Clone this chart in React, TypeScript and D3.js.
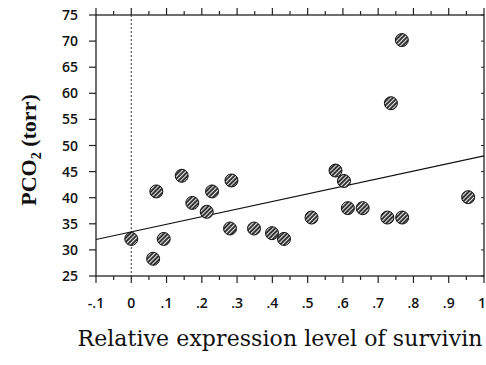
import React, { useEffect, useRef } from "react";
import * as d3 from "d3";

// survivin expression vs PCO2
const survivin = [0, 0.062, 0.071, 0.092, 0.143, 0.173, 0.214, 0.229, 0.284, 0.28, 0.348, 0.399, 0.433, 0.511, 0.579, 0.603, 0.614, 0.656, 0.726, 0.768, 0.955, 0.767, 0.736];
const pco2 = [32.1, 28.3, 41.2, 32.1, 44.2, 39.0, 37.3, 41.2, 43.3, 34.1, 34.1, 33.2, 32.1, 36.2, 45.2, 43.2, 38.0, 38.0, 36.2, 36.2, 40.1, 70.2, 58.1];

// fitted line as drawn: y = a + b x
const fitIntercept = 33.45;
const fitSlope = 14.55;

const xTicks = [-0.1, 0, 0.1, 0.2, 0.3, 0.4, 0.5, 0.6, 0.7, 0.8, 0.9, 1];
const xTickLabels = ["-.1", "0", ".1", ".2", ".3", ".4", ".5", ".6", ".7", ".8", ".9", "1"];
const yTicks = [25, 30, 35, 40, 45, 50, 55, 60, 65, 70, 75];

const W = 486;
const H = 365;
const margin = { top: 15, right: 2, bottom: 89, left: 96 };

export default function App() {
  const ref = useRef<SVGSVGElement>(null);

  useEffect(() => {
    const svg = d3.select(ref.current);
    svg.selectAll("*").remove();

    const x = d3.scaleLinear().domain([-0.1, 1]).range([margin.left, W - margin.right]);
    const y = d3.scaleLinear().domain([25, 75]).range([H - margin.bottom, margin.top]);

    // hatch pattern for the dots
    const pat = svg.append("defs").append("pattern")
      .attr("id", "hatch")
      .attr("patternUnits", "userSpaceOnUse")
      .attr("width", 3)
      .attr("height", 3)
      .attr("patternTransform", "rotate(45)");
    pat.append("rect").attr("width", 3).attr("height", 3).attr("fill", "#2a2a2a");
    pat.append("rect").attr("width", 1.1).attr("height", 3).attr("fill", "#e8e8e8");

    const axisColor = "#222";
    const minor = d3.range(-0.1, 1.0001, 0.05);

    // frame
    svg.append("rect")
      .attr("x", x(-0.1)).attr("y", y(75))
      .attr("width", x(1) - x(-0.1)).attr("height", y(25) - y(75))
      .attr("fill", "none").attr("stroke", axisColor).attr("stroke-width", 1.3);

    // top ticks (pointing up)
    svg.append("g").selectAll("line").data(minor).join("line")
      .attr("x1", d => x(d)).attr("x2", d => x(d))
      .attr("y1", y(75)).attr("y2", (d, i) => y(75) - (i % 2 === 0 ? 7 : 4))
      .attr("stroke", axisColor).attr("stroke-width", 1.2);

    // bottom ticks (pointing down)
    svg.append("g").selectAll("line").data(minor).join("line")
      .attr("x1", d => x(d)).attr("x2", d => x(d))
      .attr("y1", y(25)).attr("y2", (d, i) => y(25) + (i % 2 === 0 ? 7 : 4))
      .attr("stroke", axisColor).attr("stroke-width", 1.2);

    // left ticks
    svg.append("g").selectAll("line").data(yTicks).join("line")
      .attr("x1", x(-0.1)).attr("x2", x(-0.1) - 7)
      .attr("y1", d => y(d)).attr("y2", d => y(d))
      .attr("stroke", axisColor).attr("stroke-width", 1.2);

    // right ticks (inside)
    svg.append("g").selectAll("line").data(yTicks).join("line")
      .attr("x1", x(1)).attr("x2", x(1) - 3)
      .attr("y1", d => y(d)).attr("y2", d => y(d))
      .attr("stroke", axisColor).attr("stroke-width", 1);

    svg.append("g").selectAll("text").data(xTicks).join("text")
      .attr("x", (d, i) => x(d) - (i === xTicks.length - 1 ? 2 : 0)).attr("y", 308)
      .attr("text-anchor", "middle")
      .attr("font-family", "Open Sans").attr("font-weight", 600).attr("font-size", 14)
      .attr("fill", "#111")
      .text((d, i) => xTickLabels[i]);

    svg.append("g").selectAll("text").data(yTicks).join("text")
      .attr("x", 78).attr("y", d => y(d) + 5)
      .attr("text-anchor", "end")
      .attr("font-family", "Open Sans").attr("font-weight", 600).attr("font-size", 14)
      .attr("fill", "#111")
      .text(d => d);

    // dotted reference line at x = 0
    svg.append("line")
      .attr("x1", x(0)).attr("x2", x(0))
      .attr("y1", y(75)).attr("y2", y(25))
      .attr("stroke", "#333").attr("stroke-width", 1).attr("stroke-dasharray", "2,2");

    // regression line
    svg.append("line")
      .attr("x1", x(-0.1)).attr("x2", x(1))
      .attr("y1", y(fitIntercept + fitSlope * -0.1)).attr("y2", y(fitIntercept + fitSlope * 1))
      .attr("stroke", "#111").attr("stroke-width", 1.2);

    // points
    svg.append("g").selectAll("circle").data(survivin).join("circle")
      .attr("cx", d => x(d)).attr("cy", (d, i) => y(pco2[i]))
      .attr("r", 6.5)
      .attr("fill", "url(#hatch)")
      .attr("stroke", "#111").attr("stroke-width", 1);

    // axis titles
    const yt = svg.append("text")
      .attr("transform", "translate(36,150) rotate(-90)")
      .attr("text-anchor", "middle")
      .attr("font-family", "Liberation Serif").attr("font-weight", "bold").attr("font-size", 22)
      .attr("fill", "#111");
    yt.append("tspan").text("PCO");
    yt.append("tspan").attr("font-size", 14).attr("dy", 5).text("2");
    yt.append("tspan").attr("dy", -5).text(" (torr)");

    svg.append("text")
      .attr("x", 280).attr("y", 346)
      .attr("text-anchor", "middle")
      .attr("font-family", "DejaVu Serif").attr("font-size", 22)
      .attr("textLength", 405).attr("lengthAdjust", "spacing")
      .attr("fill", "#111")
      .text("Relative expression level of survivin");
  }, []);

  return (
    <svg ref={ref} width={W} height={H}
      style={{ position: "absolute", left: 0, top: 0, background: "#fff" }} />
  );
}
